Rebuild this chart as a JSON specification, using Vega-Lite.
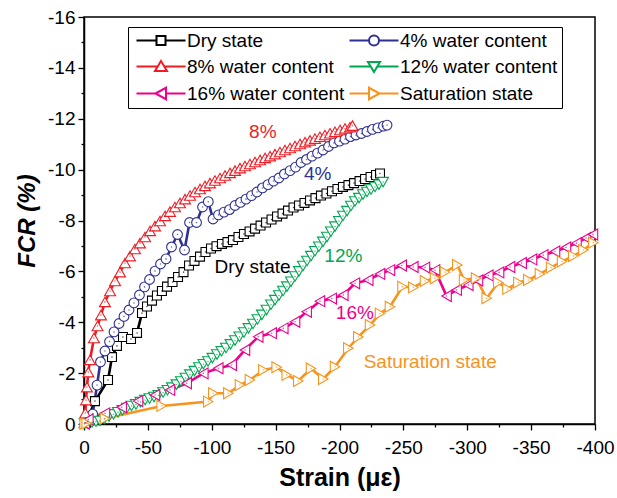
{
  "$schema": "https://vega.github.io/schema/vega-lite/v6.json",
  "width": 511,
  "height": 407,
  "autosize": {"type": "none"},
  "padding": {"left": 84, "top": 17, "right": 22, "bottom": 74},
  "config": {
    "font": "Liberation Sans",
    "view": {"stroke": "black", "strokeWidth": 1.5},
    "legend": {"gridAlign": "none"},
    "axis": {
      "grid": false,
      "domainColor": "black",
      "domainWidth": 1.5,
      "tickColor": "black",
      "tickWidth": 1.3,
      "labelColor": "black",
      "labelFont": "Liberation Sans",
      "labelFontSize": 19,
      "titleColor": "black",
      "titleFont": "Liberation Sans",
      "titleFontWeight": "bold"
    }
  },
  "datasets": {
    "curves": [
      {"series": "Dry state", "strain": -1.5, "fcr": -0.05},
      {"series": "Dry state", "strain": -8.6, "fcr": -0.9},
      {"series": "Dry state", "strain": -18.8, "fcr": -1.73},
      {"series": "Dry state", "strain": -21.9, "fcr": -2.63},
      {"series": "Dry state", "strain": -25.8, "fcr": -3.07},
      {"series": "Dry state", "strain": -30.5, "fcr": -3.42},
      {"series": "Dry state", "strain": -36.8, "fcr": -3.34},
      {"series": "Dry state", "strain": -41.5, "fcr": -3.58},
      {"series": "Dry state", "strain": -45.4, "fcr": -4.36},
      {"series": "Dry state", "strain": -49.3, "fcr": -4.62},
      {"series": "Dry state", "strain": -53.2, "fcr": -4.85},
      {"series": "Dry state", "strain": -57.1, "fcr": -5.05},
      {"series": "Dry state", "strain": -61.0, "fcr": -5.23},
      {"series": "Dry state", "strain": -65.0, "fcr": -5.4},
      {"series": "Dry state", "strain": -69.3, "fcr": -5.58},
      {"series": "Dry state", "strain": -73.6, "fcr": -5.78},
      {"series": "Dry state", "strain": -77.9, "fcr": -5.97},
      {"series": "Dry state", "strain": -82.2, "fcr": -6.23},
      {"series": "Dry state", "strain": -86.5, "fcr": -6.41},
      {"series": "Dry state", "strain": -90.8, "fcr": -6.58},
      {"series": "Dry state", "strain": -95.1, "fcr": -6.76},
      {"series": "Dry state", "strain": -99.4, "fcr": -6.9},
      {"series": "Dry state", "strain": -103.7, "fcr": -6.99},
      {"series": "Dry state", "strain": -108.0, "fcr": -7.08},
      {"series": "Dry state", "strain": -112.3, "fcr": -7.15},
      {"series": "Dry state", "strain": -116.6, "fcr": -7.23},
      {"series": "Dry state", "strain": -120.9, "fcr": -7.35},
      {"series": "Dry state", "strain": -125.2, "fcr": -7.47},
      {"series": "Dry state", "strain": -129.6, "fcr": -7.57},
      {"series": "Dry state", "strain": -133.9, "fcr": -7.68},
      {"series": "Dry state", "strain": -138.2, "fcr": -7.8},
      {"series": "Dry state", "strain": -142.5, "fcr": -7.92},
      {"series": "Dry state", "strain": -146.8, "fcr": -8.04},
      {"series": "Dry state", "strain": -151.1, "fcr": -8.16},
      {"series": "Dry state", "strain": -155.4, "fcr": -8.27},
      {"series": "Dry state", "strain": -159.7, "fcr": -8.39},
      {"series": "Dry state", "strain": -164.0, "fcr": -8.51},
      {"series": "Dry state", "strain": -168.3, "fcr": -8.59},
      {"series": "Dry state", "strain": -172.6, "fcr": -8.69},
      {"series": "Dry state", "strain": -176.9, "fcr": -8.79},
      {"series": "Dry state", "strain": -181.2, "fcr": -8.88},
      {"series": "Dry state", "strain": -185.5, "fcr": -8.98},
      {"series": "Dry state", "strain": -189.8, "fcr": -9.06},
      {"series": "Dry state", "strain": -194.1, "fcr": -9.15},
      {"series": "Dry state", "strain": -198.4, "fcr": -9.24},
      {"series": "Dry state", "strain": -202.7, "fcr": -9.32},
      {"series": "Dry state", "strain": -207.0, "fcr": -9.39},
      {"series": "Dry state", "strain": -211.4, "fcr": -9.47},
      {"series": "Dry state", "strain": -215.7, "fcr": -9.55},
      {"series": "Dry state", "strain": -220.0, "fcr": -9.63},
      {"series": "Dry state", "strain": -224.3, "fcr": -9.71},
      {"series": "Dry state", "strain": -228.6, "fcr": -9.79},
      {"series": "Dry state", "strain": -231.7, "fcr": -9.85},

      {"series": "4% water content", "strain": -3.0, "fcr": -0.1},
      {"series": "4% water content", "strain": -6.8, "fcr": -0.39},
      {"series": "4% water content", "strain": -10.2, "fcr": -1.53},
      {"series": "4% water content", "strain": -12.9, "fcr": -2.44},
      {"series": "4% water content", "strain": -16.4, "fcr": -2.87},
      {"series": "4% water content", "strain": -20.0, "fcr": -3.24},
      {"series": "4% water content", "strain": -23.5, "fcr": -3.62},
      {"series": "4% water content", "strain": -27.4, "fcr": -3.95},
      {"series": "4% water content", "strain": -31.3, "fcr": -4.23},
      {"series": "4% water content", "strain": -35.2, "fcr": -4.48},
      {"series": "4% water content", "strain": -39.1, "fcr": -4.76},
      {"series": "4% water content", "strain": -43.4, "fcr": -5.07},
      {"series": "4% water content", "strain": -47.4, "fcr": -5.39},
      {"series": "4% water content", "strain": -51.3, "fcr": -5.68},
      {"series": "4% water content", "strain": -55.6, "fcr": -6.01},
      {"series": "4% water content", "strain": -59.9, "fcr": -6.29},
      {"series": "4% water content", "strain": -64.2, "fcr": -6.49},
      {"series": "4% water content", "strain": -68.5, "fcr": -6.96},
      {"series": "4% water content", "strain": -73.2, "fcr": -7.45},
      {"series": "4% water content", "strain": -78.7, "fcr": -6.84},
      {"series": "4% water content", "strain": -82.6, "fcr": -7.92},
      {"series": "4% water content", "strain": -88.1, "fcr": -7.92},
      {"series": "4% water content", "strain": -92.8, "fcr": -8.53},
      {"series": "4% water content", "strain": -97.3, "fcr": -8.74},
      {"series": "4% water content", "strain": -101.0, "fcr": -8.06},
      {"series": "4% water content", "strain": -105.3, "fcr": -8.22},
      {"series": "4% water content", "strain": -109.6, "fcr": -8.33},
      {"series": "4% water content", "strain": -113.9, "fcr": -8.43},
      {"series": "4% water content", "strain": -118.2, "fcr": -8.59},
      {"series": "4% water content", "strain": -122.5, "fcr": -8.71},
      {"series": "4% water content", "strain": -126.8, "fcr": -8.84},
      {"series": "4% water content", "strain": -131.1, "fcr": -8.98},
      {"series": "4% water content", "strain": -135.4, "fcr": -9.12},
      {"series": "4% water content", "strain": -139.7, "fcr": -9.28},
      {"series": "4% water content", "strain": -144.0, "fcr": -9.41},
      {"series": "4% water content", "strain": -148.3, "fcr": -9.55},
      {"series": "4% water content", "strain": -152.6, "fcr": -9.67},
      {"series": "4% water content", "strain": -156.9, "fcr": -9.83},
      {"series": "4% water content", "strain": -161.3, "fcr": -9.96},
      {"series": "4% water content", "strain": -165.6, "fcr": -10.1},
      {"series": "4% water content", "strain": -169.9, "fcr": -10.28},
      {"series": "4% water content", "strain": -174.2, "fcr": -10.4},
      {"series": "4% water content", "strain": -178.5, "fcr": -10.53},
      {"series": "4% water content", "strain": -182.8, "fcr": -10.65},
      {"series": "4% water content", "strain": -187.1, "fcr": -10.77},
      {"series": "4% water content", "strain": -191.4, "fcr": -10.91},
      {"series": "4% water content", "strain": -195.7, "fcr": -11.05},
      {"series": "4% water content", "strain": -200.0, "fcr": -11.12},
      {"series": "4% water content", "strain": -204.3, "fcr": -11.2},
      {"series": "4% water content", "strain": -208.6, "fcr": -11.3},
      {"series": "4% water content", "strain": -212.9, "fcr": -11.36},
      {"series": "4% water content", "strain": -217.2, "fcr": -11.42},
      {"series": "4% water content", "strain": -221.5, "fcr": -11.5},
      {"series": "4% water content", "strain": -225.8, "fcr": -11.58},
      {"series": "4% water content", "strain": -230.1, "fcr": -11.64},
      {"series": "4% water content", "strain": -234.4, "fcr": -11.71},
      {"series": "4% water content", "strain": -237.2, "fcr": -11.75},

      {"series": "8% water content", "strain": -0.4, "fcr": -0.04},
      {"series": "8% water content", "strain": -1.0, "fcr": -0.43},
      {"series": "8% water content", "strain": -1.6, "fcr": -0.94},
      {"series": "8% water content", "strain": -2.3, "fcr": -1.45},
      {"series": "8% water content", "strain": -3.4, "fcr": -2.04},
      {"series": "8% water content", "strain": -4.7, "fcr": -2.52},
      {"series": "8% water content", "strain": -7.8, "fcr": -3.38},
      {"series": "8% water content", "strain": -10.6, "fcr": -3.85},
      {"series": "8% water content", "strain": -13.3, "fcr": -4.28},
      {"series": "8% water content", "strain": -16.4, "fcr": -4.8},
      {"series": "8% water content", "strain": -20.4, "fcr": -5.23},
      {"series": "8% water content", "strain": -24.3, "fcr": -5.62},
      {"series": "8% water content", "strain": -28.2, "fcr": -5.97},
      {"series": "8% water content", "strain": -32.1, "fcr": -6.33},
      {"series": "8% water content", "strain": -36.0, "fcr": -6.6},
      {"series": "8% water content", "strain": -39.9, "fcr": -6.88},
      {"series": "8% water content", "strain": -43.8, "fcr": -7.11},
      {"series": "8% water content", "strain": -47.8, "fcr": -7.35},
      {"series": "8% water content", "strain": -51.7, "fcr": -7.59},
      {"series": "8% water content", "strain": -55.6, "fcr": -7.78},
      {"series": "8% water content", "strain": -59.5, "fcr": -7.98},
      {"series": "8% water content", "strain": -63.4, "fcr": -8.18},
      {"series": "8% water content", "strain": -67.3, "fcr": -8.35},
      {"series": "8% water content", "strain": -71.2, "fcr": -8.53},
      {"series": "8% water content", "strain": -75.1, "fcr": -8.69},
      {"series": "8% water content", "strain": -79.1, "fcr": -8.84},
      {"series": "8% water content", "strain": -83.0, "fcr": -8.98},
      {"series": "8% water content", "strain": -86.9, "fcr": -9.12},
      {"series": "8% water content", "strain": -90.8, "fcr": -9.24},
      {"series": "8% water content", "strain": -94.7, "fcr": -9.36},
      {"series": "8% water content", "strain": -98.6, "fcr": -9.47},
      {"series": "8% water content", "strain": -102.5, "fcr": -9.57},
      {"series": "8% water content", "strain": -106.5, "fcr": -9.67},
      {"series": "8% water content", "strain": -110.4, "fcr": -9.77},
      {"series": "8% water content", "strain": -114.3, "fcr": -9.87},
      {"series": "8% water content", "strain": -118.2, "fcr": -9.96},
      {"series": "8% water content", "strain": -122.1, "fcr": -10.06},
      {"series": "8% water content", "strain": -126.0, "fcr": -10.14},
      {"series": "8% water content", "strain": -129.9, "fcr": -10.22},
      {"series": "8% water content", "strain": -133.9, "fcr": -10.3},
      {"series": "8% water content", "strain": -137.8, "fcr": -10.38},
      {"series": "8% water content", "strain": -141.7, "fcr": -10.46},
      {"series": "8% water content", "strain": -145.6, "fcr": -10.53},
      {"series": "8% water content", "strain": -149.5, "fcr": -10.61},
      {"series": "8% water content", "strain": -153.4, "fcr": -10.69},
      {"series": "8% water content", "strain": -157.3, "fcr": -10.77},
      {"series": "8% water content", "strain": -161.3, "fcr": -10.85},
      {"series": "8% water content", "strain": -165.2, "fcr": -10.93},
      {"series": "8% water content", "strain": -169.1, "fcr": -11.01},
      {"series": "8% water content", "strain": -173.0, "fcr": -11.08},
      {"series": "8% water content", "strain": -176.9, "fcr": -11.15},
      {"series": "8% water content", "strain": -180.8, "fcr": -11.22},
      {"series": "8% water content", "strain": -184.7, "fcr": -11.29},
      {"series": "8% water content", "strain": -188.6, "fcr": -11.36},
      {"series": "8% water content", "strain": -192.6, "fcr": -11.43},
      {"series": "8% water content", "strain": -196.5, "fcr": -11.49},
      {"series": "8% water content", "strain": -200.4, "fcr": -11.56},
      {"series": "8% water content", "strain": -204.3, "fcr": -11.62},
      {"series": "8% water content", "strain": -208.2, "fcr": -11.67},
      {"series": "8% water content", "strain": -210.2, "fcr": -11.73},

      {"series": "12% water content", "strain": -0.5, "fcr": -0.02},
      {"series": "12% water content", "strain": -3.1, "fcr": -0.03},
      {"series": "12% water content", "strain": -6.3, "fcr": -0.06},
      {"series": "12% water content", "strain": -9.4, "fcr": -0.09},
      {"series": "12% water content", "strain": -12.5, "fcr": -0.12},
      {"series": "12% water content", "strain": -16.0, "fcr": -0.2},
      {"series": "12% water content", "strain": -19.6, "fcr": -0.29},
      {"series": "12% water content", "strain": -23.1, "fcr": -0.38},
      {"series": "12% water content", "strain": -26.6, "fcr": -0.46},
      {"series": "12% water content", "strain": -30.1, "fcr": -0.54},
      {"series": "12% water content", "strain": -33.7, "fcr": -0.63},
      {"series": "12% water content", "strain": -37.2, "fcr": -0.71},
      {"series": "12% water content", "strain": -40.7, "fcr": -0.77},
      {"series": "12% water content", "strain": -44.2, "fcr": -0.86},
      {"series": "12% water content", "strain": -47.8, "fcr": -0.94},
      {"series": "12% water content", "strain": -51.3, "fcr": -1.0},
      {"series": "12% water content", "strain": -54.8, "fcr": -1.06},
      {"series": "12% water content", "strain": -58.3, "fcr": -1.13},
      {"series": "12% water content", "strain": -61.9, "fcr": -1.24},
      {"series": "12% water content", "strain": -65.4, "fcr": -1.33},
      {"series": "12% water content", "strain": -68.9, "fcr": -1.43},
      {"series": "12% water content", "strain": -72.4, "fcr": -1.55},
      {"series": "12% water content", "strain": -75.9, "fcr": -1.67},
      {"series": "12% water content", "strain": -79.5, "fcr": -1.81},
      {"series": "12% water content", "strain": -83.0, "fcr": -1.94},
      {"series": "12% water content", "strain": -86.5, "fcr": -2.08},
      {"series": "12% water content", "strain": -90.0, "fcr": -2.22},
      {"series": "12% water content", "strain": -93.5, "fcr": -2.35},
      {"series": "12% water content", "strain": -97.1, "fcr": -2.46},
      {"series": "12% water content", "strain": -100.6, "fcr": -2.59},
      {"series": "12% water content", "strain": -104.1, "fcr": -2.73},
      {"series": "12% water content", "strain": -107.6, "fcr": -2.86},
      {"series": "12% water content", "strain": -111.2, "fcr": -2.99},
      {"series": "12% water content", "strain": -114.7, "fcr": -3.13},
      {"series": "12% water content", "strain": -118.2, "fcr": -3.28},
      {"series": "12% water content", "strain": -121.7, "fcr": -3.43},
      {"series": "12% water content", "strain": -125.2, "fcr": -3.6},
      {"series": "12% water content", "strain": -128.8, "fcr": -3.76},
      {"series": "12% water content", "strain": -132.3, "fcr": -3.93},
      {"series": "12% water content", "strain": -135.8, "fcr": -4.11},
      {"series": "12% water content", "strain": -139.3, "fcr": -4.29},
      {"series": "12% water content", "strain": -142.9, "fcr": -4.48},
      {"series": "12% water content", "strain": -146.4, "fcr": -4.69},
      {"series": "12% water content", "strain": -149.5, "fcr": -4.87},
      {"series": "12% water content", "strain": -152.6, "fcr": -5.05},
      {"series": "12% water content", "strain": -155.8, "fcr": -5.23},
      {"series": "12% water content", "strain": -158.9, "fcr": -5.4},
      {"series": "12% water content", "strain": -162.0, "fcr": -5.59},
      {"series": "12% water content", "strain": -165.2, "fcr": -5.8},
      {"series": "12% water content", "strain": -168.3, "fcr": -6.0},
      {"series": "12% water content", "strain": -171.4, "fcr": -6.21},
      {"series": "12% water content", "strain": -174.6, "fcr": -6.41},
      {"series": "12% water content", "strain": -177.7, "fcr": -6.6},
      {"series": "12% water content", "strain": -180.8, "fcr": -6.79},
      {"series": "12% water content", "strain": -183.9, "fcr": -6.97},
      {"series": "12% water content", "strain": -187.1, "fcr": -7.16},
      {"series": "12% water content", "strain": -190.2, "fcr": -7.35},
      {"series": "12% water content", "strain": -193.3, "fcr": -7.56},
      {"series": "12% water content", "strain": -196.5, "fcr": -7.76},
      {"series": "12% water content", "strain": -199.6, "fcr": -7.97},
      {"series": "12% water content", "strain": -202.7, "fcr": -8.18},
      {"series": "12% water content", "strain": -205.9, "fcr": -8.37},
      {"series": "12% water content", "strain": -209.0, "fcr": -8.57},
      {"series": "12% water content", "strain": -212.1, "fcr": -8.75},
      {"series": "12% water content", "strain": -215.3, "fcr": -8.88},
      {"series": "12% water content", "strain": -218.4, "fcr": -9.02},
      {"series": "12% water content", "strain": -221.5, "fcr": -9.12},
      {"series": "12% water content", "strain": -224.7, "fcr": -9.22},
      {"series": "12% water content", "strain": -227.8, "fcr": -9.32},
      {"series": "12% water content", "strain": -230.9, "fcr": -9.41},
      {"series": "12% water content", "strain": -234.1, "fcr": -9.51},

      {"series": "16% water content", "strain": -0.5, "fcr": -0.02},
      {"series": "16% water content", "strain": -3.4, "fcr": -0.18},
      {"series": "16% water content", "strain": -16.4, "fcr": -0.42},
      {"series": "16% water content", "strain": -29.5, "fcr": -0.66},
      {"series": "16% water content", "strain": -42.3, "fcr": -0.9},
      {"series": "16% water content", "strain": -55.6, "fcr": -1.14},
      {"series": "16% water content", "strain": -67.3, "fcr": -1.34},
      {"series": "16% water content", "strain": -80.4, "fcr": -1.6},
      {"series": "16% water content", "strain": -93.4, "fcr": -1.99},
      {"series": "16% water content", "strain": -105.1, "fcr": -2.19},
      {"series": "16% water content", "strain": -115.6, "fcr": -2.32},
      {"series": "16% water content", "strain": -126.0, "fcr": -2.91},
      {"series": "16% water content", "strain": -136.4, "fcr": -3.43},
      {"series": "16% water content", "strain": -146.9, "fcr": -3.57},
      {"series": "16% water content", "strain": -156.0, "fcr": -3.76},
      {"series": "16% water content", "strain": -165.2, "fcr": -4.02},
      {"series": "16% water content", "strain": -174.3, "fcr": -4.41},
      {"series": "16% water content", "strain": -184.7, "fcr": -4.83},
      {"series": "16% water content", "strain": -193.9, "fcr": -4.93},
      {"series": "16% water content", "strain": -203.0, "fcr": -5.07},
      {"series": "16% water content", "strain": -212.1, "fcr": -5.53},
      {"series": "16% water content", "strain": -222.5, "fcr": -5.66},
      {"series": "16% water content", "strain": -231.7, "fcr": -5.9},
      {"series": "16% water content", "strain": -239.5, "fcr": -6.05},
      {"series": "16% water content", "strain": -248.7, "fcr": -6.23},
      {"series": "16% water content", "strain": -257.8, "fcr": -6.17},
      {"series": "16% water content", "strain": -266.9, "fcr": -6.15},
      {"series": "16% water content", "strain": -274.8, "fcr": -6.05},
      {"series": "16% water content", "strain": -283.8, "fcr": -5.03},
      {"series": "16% water content", "strain": -291.7, "fcr": -5.27},
      {"series": "16% water content", "strain": -300.8, "fcr": -5.46},
      {"series": "16% water content", "strain": -308.4, "fcr": -5.64},
      {"series": "16% water content", "strain": -316.5, "fcr": -5.84},
      {"series": "16% water content", "strain": -324.9, "fcr": -5.96},
      {"series": "16% water content", "strain": -333.5, "fcr": -6.17},
      {"series": "16% water content", "strain": -342.6, "fcr": -6.33},
      {"series": "16% water content", "strain": -350.7, "fcr": -6.47},
      {"series": "16% water content", "strain": -359.5, "fcr": -6.64},
      {"series": "16% water content", "strain": -368.7, "fcr": -6.78},
      {"series": "16% water content", "strain": -377.3, "fcr": -6.94},
      {"series": "16% water content", "strain": -385.5, "fcr": -7.11},
      {"series": "16% water content", "strain": -393.0, "fcr": -7.31},
      {"series": "16% water content", "strain": -398.4, "fcr": -7.45},

      {"series": "Saturation state", "strain": -0.5, "fcr": -0.01},
      {"series": "Saturation state", "strain": -2.1, "fcr": -0.03},
      {"series": "Saturation state", "strain": -16.4, "fcr": -0.22},
      {"series": "Saturation state", "strain": -60.8, "fcr": -0.71},
      {"series": "Saturation state", "strain": -97.3, "fcr": -0.88},
      {"series": "Saturation state", "strain": -101.2, "fcr": -1.21},
      {"series": "Saturation state", "strain": -113.0, "fcr": -1.21},
      {"series": "Saturation state", "strain": -122.1, "fcr": -1.53},
      {"series": "Saturation state", "strain": -129.9, "fcr": -1.73},
      {"series": "Saturation state", "strain": -140.4, "fcr": -2.12},
      {"series": "Saturation state", "strain": -150.8, "fcr": -2.23},
      {"series": "Saturation state", "strain": -158.7, "fcr": -1.93},
      {"series": "Saturation state", "strain": -167.7, "fcr": -1.69},
      {"series": "Saturation state", "strain": -177.7, "fcr": -2.18},
      {"series": "Saturation state", "strain": -187.3, "fcr": -1.77},
      {"series": "Saturation state", "strain": -196.5, "fcr": -2.25},
      {"series": "Saturation state", "strain": -206.9, "fcr": -2.98},
      {"series": "Saturation state", "strain": -214.7, "fcr": -3.42},
      {"series": "Saturation state", "strain": -223.9, "fcr": -3.89},
      {"series": "Saturation state", "strain": -231.7, "fcr": -4.34},
      {"series": "Saturation state", "strain": -239.5, "fcr": -4.61},
      {"series": "Saturation state", "strain": -249.3, "fcr": -5.4},
      {"series": "Saturation state", "strain": -257.8, "fcr": -5.37},
      {"series": "Saturation state", "strain": -266.9, "fcr": -5.62},
      {"series": "Saturation state", "strain": -274.8, "fcr": -5.73},
      {"series": "Saturation state", "strain": -282.6, "fcr": -5.97},
      {"series": "Saturation state", "strain": -292.2, "fcr": -6.25},
      {"series": "Saturation state", "strain": -297.5, "fcr": -5.66},
      {"series": "Saturation state", "strain": -306.9, "fcr": -5.73},
      {"series": "Saturation state", "strain": -315.2, "fcr": -4.94},
      {"series": "Saturation state", "strain": -324.3, "fcr": -5.56},
      {"series": "Saturation state", "strain": -331.5, "fcr": -5.31},
      {"series": "Saturation state", "strain": -340.0, "fcr": -5.56},
      {"series": "Saturation state", "strain": -347.8, "fcr": -5.66},
      {"series": "Saturation state", "strain": -356.9, "fcr": -5.9},
      {"series": "Saturation state", "strain": -365.6, "fcr": -6.15},
      {"series": "Saturation state", "strain": -374.2, "fcr": -6.39},
      {"series": "Saturation state", "strain": -383.0, "fcr": -6.6},
      {"series": "Saturation state", "strain": -390.9, "fcr": -6.84},
      {"series": "Saturation state", "strain": -398.7, "fcr": -7.13}
    ],
    "notes": [
      {"label": "8%", "series": "8% water content", "strain": -140, "fcr": -11.48},
      {"label": "4%", "series": "4% water content", "strain": -183, "fcr": -9.83},
      {"label": "Dry state", "series": "Dry state", "strain": -132, "fcr": -6.17},
      {"label": "12%", "series": "12% water content", "strain": -203, "fcr": -6.6},
      {"label": "16%", "series": "16% water content", "strain": -212, "fcr": -4.36},
      {"label": "Saturation state", "series": "Saturation state", "strain": -271, "fcr": -2.44}
    ]
  },
  "data": {"name": "curves"},
  "encoding": {
    "x": {
      "field": "strain",
      "type": "quantitative",
      "scale": {"domain": [-400, 0], "reverse": true, "nice": false, "zero": false},
      "axis": {
        "title": "Strain (με)",
        "titleFontSize": 25,
        "titlePadding": 8,
        "values": [0, -25, -50, -75, -100, -125, -150, -175, -200, -225, -250, -275, -300, -325, -350, -375, -400],
        "labelExpr": "datum.value % 50 === 0 ? (datum.value === 0 ? '0' : '-' + abs(datum.value)) : ''",
        "tickSize": {"condition": {"test": "datum.value % 50 !== 0", "value": 3}, "value": 6},
        "labelPadding": 8,
        "labelFlush": false,
        "labelOverlap": false
      }
    },
    "y": {
      "field": "fcr",
      "type": "quantitative",
      "scale": {"domain": [-16, 0], "reverse": true, "nice": false, "zero": false},
      "axis": {
        "title": "FCR (%)",
        "titleFontSize": 24,
        "titleFontStyle": "italic",
        "titlePadding": 8,
        "values": [0, -1, -2, -3, -4, -5, -6, -7, -8, -9, -10, -11, -12, -13, -14, -15, -16],
        "labelExpr": "datum.value % 2 === 0 ? (datum.value === 0 ? '0' : '-' + abs(datum.value)) : ''",
        "tickSize": {"condition": {"test": "datum.value % 2 !== 0", "value": 3}, "value": 6},
        "labelPadding": 3,
        "labelFlush": false,
        "labelOverlap": false
      }
    }
  },
  "layer": [
    {
      "mark": {"type": "line", "strokeWidth": 2.6},
      "encoding": {
        "stroke": {
          "field": "series", "type": "nominal", "legend": null,
          "scale": {
            "domain": ["Saturation state", "16% water content", "12% water content", "8% water content", "4% water content", "Dry state"],
            "range": ["#F7941D", "#EC008C", "#00A651", "#EE1C25", "#2E3192", "#000000"]
          }
        }
      }
    },
    {
      "transform": [{"filter": "datum.series === 'Dry state'"}],
      "mark": {"type": "point", "shape": "square", "size": 80, "filled": false, "fill": "white", "strokeWidth": 1.1, "opacity": 1},
      "encoding": {
        "stroke": {
          "field": "series", "type": "nominal", "legend": null,
          "scale": {
            "domain": ["Saturation state", "16% water content", "12% water content", "8% water content", "4% water content", "Dry state"],
            "range": ["#F7941D", "#EC008C", "#00A651", "#EE1C25", "#2E3192", "#000000"]
          }
        }
      }
    },
    {
      "transform": [{"filter": "datum.series === '4% water content'"}],
      "mark": {"type": "point", "shape": "circle", "size": 95, "filled": false, "fill": "white", "strokeWidth": 1.1, "opacity": 1},
      "encoding": {
        "stroke": {
          "field": "series", "type": "nominal", "legend": null,
          "scale": {
            "domain": ["Saturation state", "16% water content", "12% water content", "8% water content", "4% water content", "Dry state"],
            "range": ["#F7941D", "#EC008C", "#00A651", "#EE1C25", "#2E3192", "#000000"]
          }
        }
      }
    },
    {
      "transform": [{"filter": "datum.series === '8% water content'"}],
      "mark": {"type": "point", "shape": "triangle-up", "size": 120, "filled": false, "fill": "white", "strokeWidth": 1.1, "opacity": 1},
      "encoding": {
        "stroke": {
          "field": "series", "type": "nominal", "legend": null,
          "scale": {
            "domain": ["Saturation state", "16% water content", "12% water content", "8% water content", "4% water content", "Dry state"],
            "range": ["#F7941D", "#EC008C", "#00A651", "#EE1C25", "#2E3192", "#000000"]
          }
        }
      }
    },
    {
      "transform": [{"filter": "datum.series === '12% water content'"}],
      "mark": {"type": "point", "shape": "triangle-down", "size": 120, "filled": false, "fill": "white", "strokeWidth": 1.1, "opacity": 1},
      "encoding": {
        "stroke": {
          "field": "series", "type": "nominal", "legend": null,
          "scale": {
            "domain": ["Saturation state", "16% water content", "12% water content", "8% water content", "4% water content", "Dry state"],
            "range": ["#F7941D", "#EC008C", "#00A651", "#EE1C25", "#2E3192", "#000000"]
          }
        }
      }
    },
    {
      "transform": [{"filter": "datum.series === '16% water content'"}],
      "mark": {"type": "point", "shape": "triangle-left", "size": 120, "filled": false, "fill": "white", "strokeWidth": 1.1, "opacity": 1},
      "encoding": {
        "stroke": {
          "field": "series", "type": "nominal", "legend": null,
          "scale": {
            "domain": ["Saturation state", "16% water content", "12% water content", "8% water content", "4% water content", "Dry state"],
            "range": ["#F7941D", "#EC008C", "#00A651", "#EE1C25", "#2E3192", "#000000"]
          }
        }
      }
    },
    {
      "transform": [{"filter": "datum.series === 'Saturation state'"}],
      "mark": {"type": "point", "shape": "triangle-right", "size": 120, "filled": false, "fill": "white", "strokeWidth": 1.1, "opacity": 1},
      "encoding": {
        "stroke": {
          "field": "series", "type": "nominal", "legend": null,
          "scale": {
            "domain": ["Saturation state", "16% water content", "12% water content", "8% water content", "4% water content", "Dry state"],
            "range": ["#F7941D", "#EC008C", "#00A651", "#EE1C25", "#2E3192", "#000000"]
          }
        }
      }
    },
    {
      "mark": {"type": "point", "shape": "circle", "size": 2.5, "filled": true, "opacity": 0.7},
      "encoding": {
        "fill": {
          "field": "series", "type": "nominal", "legend": null,
          "scale": {
            "domain": ["Saturation state", "16% water content", "12% water content", "8% water content", "4% water content", "Dry state"],
            "range": ["#F7941D", "#EC008C", "#00A651", "#EE1C25", "#2E3192", "#000000"]
          }
        }
      }
    },
    {
      "data": {"name": "notes"},
      "mark": {"type": "text", "fontSize": 19, "font": "Liberation Sans", "align": "center", "baseline": "middle"},
      "encoding": {
        "text": {"field": "label"},
        "fill": {
          "field": "series", "type": "nominal", "legend": null,
          "scale": {
            "domain": ["Saturation state", "16% water content", "12% water content", "8% water content", "4% water content", "Dry state"],
            "range": ["#F7941D", "#EC008C", "#00A651", "#EE1C25", "#2E3192", "#000000"]
          }
        }
      }
    },
    {
      "transform": [{"filter": "false"}],
      "mark": {"type": "point", "size": 100, "filled": false, "fill": "white", "strokeWidth": 2, "opacity": 1},
      "encoding": {
        "color": {
          "field": "series", "type": "nominal",
          "scale": {
            "domain": ["Dry state", "4% water content", "8% water content", "12% water content", "16% water content", "Saturation state"],
            "range": ["#000000", "#2E3192", "#EE1C25", "#00A651", "#EC008C", "#F7941D"]
          },
          "legend": {
            "title": null, "orient": "none", "legendX": 44, "legendY": 10, "direction": "horizontal",
            "columns": 2, "gridAlign": "none", "columnPadding": 0, "rowPadding": 6,
            "padding": 4, "strokeColor": "black", "fillColor": "white",
            "labelFont": "Liberation Sans", "labelFontSize": 19, "labelColor": "black", "labelLimit": 400,
            "labelOffset": 36, "symbolSize": 100, "symbolStrokeWidth": 2, "symbolFillColor": "white", "symbolOpacity": 1
          }
        },
        "shape": {
          "field": "series", "type": "nominal",
          "scale": {
            "domain": ["Dry state", "4% water content", "8% water content", "12% water content", "16% water content", "Saturation state"],
            "range": [
              "M-1,0H3M4.8,0H8.8M3,-0.9H4.8V0.9H3Z",
              "M-1,0H2.9M4.9,0H8.8M2.9,0A1,1,0,1,1,4.9,0A1,1,0,1,1,2.9,0Z",
              "M-1,0H3.25M4.55,0H8.8M3.9,-1.1L5.1,0.9L2.7,0.9Z",
              "M-1,0H3.25M4.55,0H8.8M3.9,1.1L5.1,-0.9L2.7,-0.9Z",
              "M-1,0H2.8M4.9,0H8.8M2.8,0L4.9,-1.15L4.9,1.15Z",
              "M-1,0H2.9M5,0H8.8M5,0L2.9,-1.15L2.9,1.15Z"
            ]
          },
          "legend": {
            "title": null, "orient": "none", "legendX": 44, "legendY": 10, "direction": "horizontal",
            "columns": 2, "gridAlign": "none", "columnPadding": 0, "rowPadding": 6,
            "padding": 4, "strokeColor": "black", "fillColor": "white",
            "labelFont": "Liberation Sans", "labelFontSize": 19, "labelColor": "black", "labelLimit": 400,
            "labelOffset": 36, "symbolSize": 100, "symbolStrokeWidth": 2, "symbolFillColor": "white", "symbolOpacity": 1
          }
        }
      }
    }
  ]
}
